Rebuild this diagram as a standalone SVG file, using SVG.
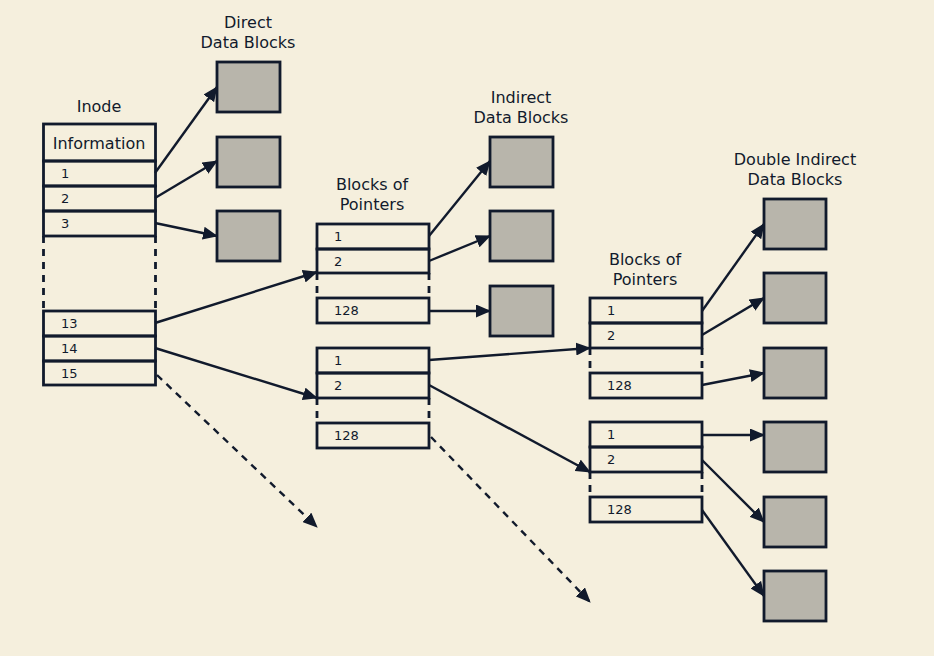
<svg xmlns="http://www.w3.org/2000/svg" width="934" height="656" viewBox="0 0 934 656">
<defs>
<marker id="ah" markerUnits="userSpaceOnUse" markerWidth="15" markerHeight="13" refX="14" refY="6.5" orient="auto">
<path d="M0,0 L15,6.5 L0,13 z" fill="#111a2c"/>
</marker>
<style>
.cell{fill:none;stroke:#111a2c;stroke-width:2.8}
.gap{fill:none;stroke:#111a2c;stroke-width:2.8;stroke-dasharray:7,6}
.data{fill:#b8b5ab;stroke:#111a2c;stroke-width:2.8}
.lbl{font-family:"DejaVu Sans",sans-serif;font-size:16px;fill:#111a2c;text-anchor:middle}
.num{font-family:"DejaVu Sans",sans-serif;font-size:13px;fill:#111a2c}
.arr{fill:none;stroke:#111a2c;stroke-width:2.4;marker-end:url(#ah)}
.darr{fill:none;stroke:#111a2c;stroke-width:2.4;stroke-dasharray:7,6;marker-end:url(#ah)}
</style>
</defs>
<rect x="0" y="0" width="934" height="656" fill="#f5efdd"/>

<g id="inode">
<text class="lbl" x="99" y="112">Inode</text>
<line class="gap" x1="43.5" y1="236" x2="43.5" y2="311"/>
<line class="gap" x1="155.5" y1="236" x2="155.5" y2="311"/>
<rect class="cell" x="43.5" y="124" width="112" height="37"/>
<text class="lbl" x="99" y="149">Information</text>
<rect class="cell" x="43.5" y="161" width="112" height="25"/>
<text class="num" x="61" y="178">1</text>
<rect class="cell" x="43.5" y="186" width="112" height="25"/>
<text class="num" x="61" y="203">2</text>
<rect class="cell" x="43.5" y="211" width="112" height="25"/>
<text class="num" x="61" y="228">3</text>
<rect class="cell" x="43.5" y="311" width="112" height="25"/>
<text class="num" x="61" y="328">13</text>
<rect class="cell" x="43.5" y="336" width="112" height="25"/>
<text class="num" x="61" y="353">14</text>
<rect class="cell" x="43.5" y="361" width="112" height="24"/>
<text class="num" x="61" y="378">15</text>
</g>

<g id="direct-blocks">
<text class="lbl" x="248" y="28">Direct</text>
<text class="lbl" x="248" y="48">Data Blocks</text>
<rect class="data" x="217" y="62" width="63" height="50"/>
<rect class="data" x="217" y="137" width="63" height="50"/>
<rect class="data" x="217" y="211" width="63" height="50"/>
</g>

<g id="pointers-1">
<text class="lbl" x="372" y="190">Blocks of</text>
<text class="lbl" x="372" y="210">Pointers</text>
<line class="gap" x1="317" y1="273" x2="317" y2="298"/>
<line class="gap" x1="429" y1="273" x2="429" y2="298"/>
<rect class="cell" x="317" y="224" width="112" height="25"/>
<text class="num" x="334" y="241">1</text>
<rect class="cell" x="317" y="249" width="112" height="24"/>
<text class="num" x="334" y="266">2</text>
<rect class="cell" x="317" y="298" width="112" height="25"/>
<text class="num" x="334" y="315">128</text>
</g>

<g id="pointers-2">
<line class="gap" x1="317" y1="398" x2="317" y2="423"/>
<line class="gap" x1="429" y1="398" x2="429" y2="423"/>
<rect class="cell" x="317" y="348" width="112" height="25"/>
<text class="num" x="334" y="365">1</text>
<rect class="cell" x="317" y="373" width="112" height="25"/>
<text class="num" x="334" y="390">2</text>
<rect class="cell" x="317" y="423" width="112" height="25"/>
<text class="num" x="334" y="440">128</text>
</g>

<g id="indirect-blocks">
<text class="lbl" x="521" y="103">Indirect</text>
<text class="lbl" x="521" y="123">Data Blocks</text>
<rect class="data" x="490" y="137" width="63" height="50"/>
<rect class="data" x="490" y="211" width="63" height="50"/>
<rect class="data" x="490" y="286" width="63" height="50"/>
</g>

<g id="pointers-3">
<text class="lbl" x="645" y="265">Blocks of</text>
<text class="lbl" x="645" y="285">Pointers</text>
<line class="gap" x1="590" y1="348" x2="590" y2="373"/>
<line class="gap" x1="702" y1="348" x2="702" y2="373"/>
<rect class="cell" x="590" y="298" width="112" height="25"/>
<text class="num" x="607" y="315">1</text>
<rect class="cell" x="590" y="323" width="112" height="25"/>
<text class="num" x="607" y="340">2</text>
<rect class="cell" x="590" y="373" width="112" height="25"/>
<text class="num" x="607" y="390">128</text>
</g>

<g id="pointers-4">
<line class="gap" x1="590" y1="472" x2="590" y2="497"/>
<line class="gap" x1="702" y1="472" x2="702" y2="497"/>
<rect class="cell" x="590" y="422" width="112" height="25"/>
<text class="num" x="607" y="439">1</text>
<rect class="cell" x="590" y="447" width="112" height="25"/>
<text class="num" x="607" y="464">2</text>
<rect class="cell" x="590" y="497" width="112" height="25"/>
<text class="num" x="607" y="514">128</text>
</g>

<g id="double-indirect-blocks">
<text class="lbl" x="795" y="165">Double Indirect</text>
<text class="lbl" x="795" y="185">Data Blocks</text>
<rect class="data" x="764" y="199" width="62" height="50"/>
<rect class="data" x="764" y="273" width="62" height="50"/>
<rect class="data" x="764" y="348" width="62" height="50"/>
<rect class="data" x="764" y="422" width="62" height="50"/>
<rect class="data" x="764" y="497" width="62" height="50"/>
<rect class="data" x="764" y="571" width="62" height="50"/>
</g>

<g id="connectors">
<path class="arr" d="M155,173 L217,87"/>
<path class="arr" d="M155,198 L217,161"/>
<path class="arr" d="M155,223 L217,236"/>
<path class="arr" d="M155,323 L317,272"/>
<path class="arr" d="M155,348 L317,398"/>
<path class="darr" d="M157,375 L317,527"/>
<path class="arr" d="M429,236 L490,161"/>
<path class="arr" d="M429,261 L490,236"/>
<path class="arr" d="M429,311 L490,311"/>
<path class="arr" d="M429,360 L590,348"/>
<path class="arr" d="M429,385 L590,472"/>
<path class="darr" d="M431,437 L590,602"/>
<path class="arr" d="M702,311 L764,224"/>
<path class="arr" d="M702,335 L764,298"/>
<path class="arr" d="M702,385 L764,373"/>
<path class="arr" d="M702,435 L764,435"/>
<path class="arr" d="M702,460 L764,522"/>
<path class="arr" d="M702,510 L764,596"/>
</g>
</svg>
